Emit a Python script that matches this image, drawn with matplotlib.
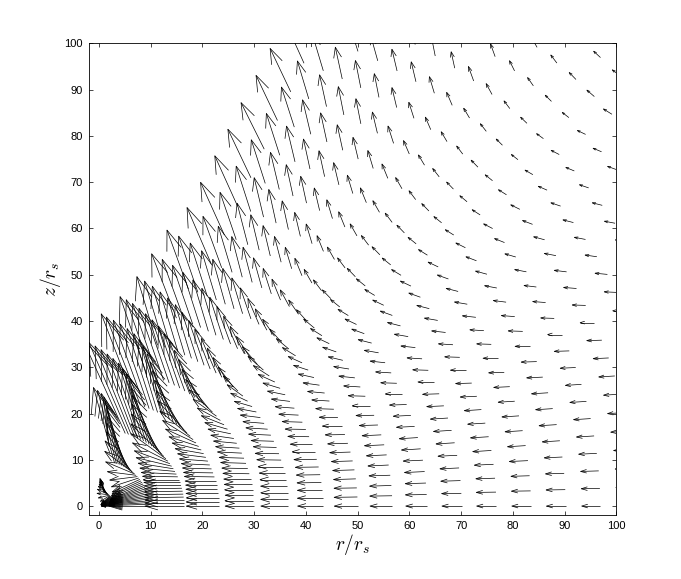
import numpy as np
import matplotlib
matplotlib.use("Agg")
import matplotlib.pyplot as plt
from matplotlib.collections import LineCollection

plt.rcParams['font.family'] = ['Liberation Sans', 'DejaVu Sans']
plt.rcParams['mathtext.fontset'] = 'cm'

# tail radius of each ring of arrows (r_s units)
ring_radius = [3.1, 9.8, 16.5, 23.2, 29.9, 36.6, 43.3, 50.0, 56.7, 63.4, 70.1,
               76.8, 83.5, 90.2, 96.9, 103.6, 110.3, 117.0, 123.7, 130.4, 137.1]

# latitude (deg above the equator) of the arrows along each ring
latitude_deg = [0, 2.25, 4.5, 6.75, 9, 11.25, 13.5, 15.75, 18, 20.25, 22.5,
                24.75, 27, 29.25, 31.5, 33.75, 36, 38.25, 40.5, 42.75, 45,
                47.25, 49.5, 51.75, 54, 56.25, 58.5, 60.75, 63, 65.25, 67.5,
                69.75, 72]

# arrow direction (deg, 180 = pointing to -r), one row per ring
arrow_dir = [
    [180, 182, 184, 187, 189, 191, 193, 196, 198, 200, 202, 205, 207, 209, 211, 214, 216, 218, 220, 222, 224, 215, 196, 172, 152, 137, 127, 119, 114, 110, 107, 105, 104],
    [180, 182, 184, 186, 188, 190, 192, 194, 196, 198, 200, 202, 204, 205, 206, 207, 207, 200, 188, 172, 155, 140, 128, 119, 113, 109, 106, 104, 103, 102, 102, 103, 104],
    [180, 180, 180, 181, 181, 181, 181, 181, 180, 180, 179, 177, 174, 170, 165, 158, 150, 141, 132, 124, 117, 112, 109, 107, 106, 106, 106, 107, 108, 109, 110, 111, 112],
    [180, 180, 180, 180, 180, 180, 180, 179, 179, 178, 177, 175, 172, 169, 165, 160, 153, 145, 137, 129, 122, 116, 112, 109, 107, 106, 105, 105, 106, 107, 108, 109, 109],
    [180, 180, 180, 180, 180, 180, 179, 179, 178, 178, 177, 176, 174, 171, 167, 162, 156, 149, 141, 133, 125, 119, 114, 111, 109, 108, 107, 107, 107, 107, 107, 107, 107],
    [180, 180, 180, 180, 180, 180, 180, 179, 179, 178, 178, 177, 176, 175, 172, 168, 162, 152, 141, 131, 124, 118, 114, 111, 109, 107, 106, 105, 105, 105, 105, 105, 105],
    [180, 180, 180, 181, 181, 181, 181, 180, 180, 179, 179, 178, 177, 175, 172, 167, 161, 153, 144, 135, 127, 120, 115, 111, 108, 106, 105, 105, 106, 107, 108, 109],
    [180, 181, 181, 182, 182, 182, 182, 182, 181, 180, 179, 178, 176, 174, 171, 166, 160, 153, 145, 137, 129, 122, 116, 111, 107, 105, 104, 104, 105, 106, 107, 108],
    [180, 181, 182, 182, 183, 183, 183, 183, 182, 181, 180, 178, 176, 173, 170, 165, 159, 152, 145, 137, 129, 122, 116, 110, 106, 104, 103, 103, 105, 108, 111],
    [180, 181, 182, 183, 183, 184, 184, 183, 183, 182, 180, 178, 176, 173, 169, 164, 158, 152, 146, 138, 131, 124, 117, 110, 105, 103, 102, 102, 103, 107, 112],
    [180, 181, 182, 183, 183, 184, 184, 184, 183, 182, 180, 178, 176, 173, 169, 164, 158, 152, 146, 138, 131, 124, 117, 110, 105, 102, 101, 101, 102, 106, 112],
    [180, 181, 182, 183, 184, 184, 184, 184, 183, 182, 180, 178, 176, 173, 169, 164, 158, 152, 146, 138, 131, 124, 117, 110, 105, 102, 101, 101, 102, 106, 113],
    [180, 181, 182, 183, 184, 184, 184, 184, 183, 182, 180, 178, 176, 173, 169, 164, 158, 152, 145, 138, 131, 124, 117, 110, 105, 102, 101, 101, 102, 106, 114],
    [180, 181, 182, 183, 184, 184, 184, 184, 183, 182, 180, 178, 175, 172, 168, 163, 157, 151, 145, 138, 131, 124, 117, 110, 105, 102, 101, 101, 102, 106, 113],
    [180, 181, 182, 183, 184, 184, 184, 184, 183, 182, 180, 178, 175, 172, 168, 162, 156, 150, 144, 137, 131, 125, 118, 111, 106, 102, 100, 100, 101, 105, 113],
    [180, 181, 182, 183, 184, 184, 184, 184, 183, 182, 180, 178, 175, 172, 168, 163, 157, 151, 145, 138, 131, 124, 118, 111, 106, 102, 100, 100, 101, 105, 112],
    [180, 181, 182, 183, 184, 184, 184, 184, 183, 182, 180, 177, 174, 171, 168, 164, 159, 154, 147, 139, 132, 125, 118, 111, 105, 102, 102, 104, 106, 108, 112],
    [180, 181, 182, 183, 184, 184, 184, 184, 183, 182, 180, 177, 174, 171, 168, 164, 159, 155, 150, 141, 133, 124, 116, 108, 101, 100, 102, 105, 107, 109, 112],
    [180, 181, 182, 183, 184, 184, 184, 184, 183, 182, 180, 177, 174, 171, 168, 164, 158, 155, 152, 139, 132, 122, 114, 108, 104, 103, 104, 106, 108, 110, 112],
    [180, 181, 182, 183, 184, 184, 184, 184, 183, 182, 180, 177, 174, 171, 168, 163, 157, 150, 145, 136, 131, 124, 117, 111, 106, 104, 104, 106, 108, 110, 112],
    [180, 181, 182, 183, 184, 184, 184, 184, 183, 182, 180, 177, 174, 171, 168, 163, 157, 151, 146, 140, 134, 127, 120, 113, 108, 105, 105, 106, 108, 110, 112],
]

# drawn arrow length (r_s units), same layout as arrow_dir
arrow_len = [
    [2.6, 2.6, 2.6, 2.6, 2.6, 2.6, 2.6, 2.6, 2.6, 2.6, 2.6, 2.6, 2.6, 2.6, 2.6, 2.6, 2.6, 2.5, 2.5, 2.4, 2.3, 2.2, 2.2, 2.3, 2.4, 2.5, 2.6, 2.7, 2.8, 2.9, 3.0, 3.0, 3.1],
    [7.9, 7.9, 7.9, 7.8, 7.8, 7.7, 7.7, 7.6, 7.5, 7.4, 7.3, 7.2, 7.0, 6.8, 6.6, 6.3, 6.0, 5.6, 5.4, 5.6, 6.2, 7.2, 8.4, 9.6, 10.8, 11.8, 12.8, 13.6, 14.4, 15.0, 15.6, 16.2, 16.8],
    [7.6, 7.6, 7.5, 7.5, 7.4, 7.3, 7.2, 7.1, 7.0, 6.9, 6.8, 6.8, 6.8, 6.9, 7.1, 7.4, 7.9, 8.6, 9.5, 10.5, 11.6, 12.7, 13.8, 14.8, 15.8, 16.7, 17.5, 18.3, 19.1, 19.9, 20.6, 21.3, 22.0],
    [6.3, 6.3, 6.2, 6.2, 6.1, 6.0, 5.9, 5.8, 5.7, 5.6, 5.5, 5.5, 5.5, 5.6, 5.8, 6.1, 6.6, 7.2, 8.0, 9.0, 10.1, 11.3, 12.5, 13.7, 14.8, 15.8, 16.8, 17.6, 18.4, 19.1, 19.7, 20.2, 20.6],
    [5.5, 5.5, 5.4, 5.4, 5.3, 5.2, 5.1, 5.0, 4.9, 4.8, 4.7, 4.6, 4.5, 4.5, 4.5, 4.6, 4.8, 5.2, 5.8, 6.6, 7.6, 8.7, 9.8, 10.9, 12.0, 13.0, 14.0, 14.8, 15.6, 16.3, 16.9, 17.3, 17.6],
    [5.3, 5.3, 5.2, 5.1, 5.0, 4.9, 4.8, 4.7, 4.6, 4.5, 4.4, 4.3, 4.2, 4.1, 3.9, 3.7, 3.6, 3.7, 3.9, 4.3, 5.0, 5.9, 6.9, 8.0, 9.1, 10.1, 11.1, 12.0, 12.8, 13.5, 14.2, 14.8, 15.3],
    [4.9, 4.9, 4.8, 4.7, 4.6, 4.5, 4.4, 4.3, 4.2, 4.1, 4.0, 3.9, 3.8, 3.7, 3.6, 3.5, 3.5, 3.6, 3.8, 4.2, 4.8, 5.6, 6.5, 7.5, 8.5, 9.5, 10.5, 11.5, 12.4, 13.3, 14.0, 14.7],
    [4.5, 4.5, 4.4, 4.3, 4.2, 4.1, 4.0, 3.9, 3.8, 3.7, 3.6, 3.5, 3.4, 3.3, 3.2, 3.1, 3.0, 3.0, 3.1, 3.3, 3.7, 4.3, 5.1, 6.0, 7.0, 8.0, 9.0, 10.0, 11.0, 11.9, 12.7, 13.4],
    [4.3, 4.3, 4.2, 4.1, 4.0, 3.9, 3.8, 3.7, 3.6, 3.5, 3.4, 3.3, 3.2, 3.1, 3.0, 2.9, 2.8, 2.7, 2.7, 2.8, 3.0, 3.4, 4.0, 4.8, 5.7, 6.7, 7.8, 9.0, 10.3, 11.7, 13.0],
    [4.1, 4.1, 4.0, 3.9, 3.8, 3.7, 3.6, 3.5, 3.4, 3.3, 3.2, 3.1, 3.0, 2.9, 2.8, 2.7, 2.6, 2.5, 2.4, 2.4, 2.5, 2.8, 3.3, 4.0, 4.8, 5.7, 6.7, 7.8, 9.2, 10.7, 12.3],
    [3.8, 3.8, 3.8, 3.7, 3.7, 3.6, 3.5, 3.4, 3.3, 3.2, 3.1, 3.0, 2.9, 2.8, 2.7, 2.6, 2.5, 2.4, 2.3, 2.3, 2.4, 2.6, 3.0, 3.6, 4.4, 5.3, 6.3, 7.4, 8.7, 10.2, 11.8],
    [3.8, 3.8, 3.7, 3.7, 3.6, 3.5, 3.4, 3.3, 3.2, 3.1, 3.0, 2.9, 2.8, 2.7, 2.6, 2.5, 2.4, 2.3, 2.2, 2.2, 2.3, 2.5, 2.9, 3.5, 4.2, 5.0, 5.9, 6.9, 8.2, 9.8, 11.4],
    [3.7, 3.7, 3.6, 3.6, 3.5, 3.4, 3.3, 3.2, 3.1, 3.0, 2.9, 2.8, 2.7, 2.6, 2.5, 2.4, 2.3, 2.2, 2.1, 2.1, 2.2, 2.4, 2.8, 3.4, 4.1, 4.9, 5.7, 6.6, 7.9, 9.4, 11.0],
    [3.7, 3.7, 3.6, 3.5, 3.4, 3.4, 3.3, 3.2, 3.1, 3.0, 2.9, 2.8, 2.6, 2.5, 2.4, 2.3, 2.2, 2.1, 2.0, 2.0, 2.1, 2.3, 2.7, 3.3, 4.0, 4.8, 5.6, 6.4, 7.6, 9.0, 10.6],
    [3.6, 3.6, 3.5, 3.5, 3.4, 3.3, 3.2, 3.1, 3.0, 2.9, 2.8, 2.6, 2.5, 2.4, 2.3, 2.2, 2.1, 2.0, 1.9, 1.9, 2.0, 2.2, 2.5, 3.1, 3.9, 4.7, 5.5, 6.2, 7.0, 8.5, 10.2],
    [3.6, 3.6, 3.5, 3.4, 3.4, 3.3, 3.2, 3.1, 3.0, 2.9, 2.7, 2.6, 2.5, 2.4, 2.3, 2.2, 2.1, 2.0, 1.9, 1.9, 2.0, 2.1, 2.4, 2.9, 3.6, 4.4, 5.2, 6.0, 7.0, 8.3, 9.8],
    [3.5, 3.5, 3.4, 3.4, 3.3, 3.2, 3.1, 3.0, 2.9, 2.8, 2.6, 2.5, 2.4, 2.3, 2.2, 2.1, 2.0, 1.9, 1.8, 1.7, 1.8, 2.0, 2.4, 3.0, 3.7, 4.4, 4.8, 5.4, 6.5, 7.8, 9.4],
    [3.5, 3.5, 3.4, 3.3, 3.3, 3.2, 3.1, 3.0, 2.9, 2.8, 2.6, 2.5, 2.4, 2.3, 2.1, 2.0, 1.9, 1.8, 1.8, 1.7, 1.8, 2.0, 2.6, 3.3, 3.6, 4.2, 4.8, 5.4, 6.3, 7.5, 9.0],
    [3.4, 3.4, 3.3, 3.3, 3.2, 3.1, 3.0, 2.9, 2.8, 2.7, 2.6, 2.4, 2.3, 2.2, 2.1, 2.0, 1.9, 1.8, 1.8, 1.7, 1.8, 2.1, 2.4, 2.9, 3.4, 4.0, 4.6, 5.2, 6.0, 7.2, 8.6],
    [3.4, 3.4, 3.3, 3.2, 3.2, 3.1, 3.0, 2.9, 2.8, 2.7, 2.5, 2.4, 2.3, 2.2, 2.1, 2.0, 1.9, 1.9, 2.0, 2.0, 2.0, 2.1, 2.3, 2.7, 3.2, 3.8, 4.4, 5.0, 5.8, 6.9, 8.2],
    [3.3, 3.3, 3.2, 3.2, 3.1, 3.0, 2.9, 2.8, 2.7, 2.6, 2.5, 2.4, 2.3, 2.2, 2.1, 2.0, 1.9, 1.9, 1.9, 1.9, 1.9, 2.0, 2.2, 2.6, 3.1, 3.6, 4.2, 4.8, 5.6, 6.6, 7.8],
]

# matlab style open arrow heads
alpha, beta = 0.33, 0.33
segments = []
for R, dirs, lens in zip(ring_radius, arrow_dir, arrow_len):
    for lat, phi, L in zip(latitude_deg, dirs, lens):
        x = R * np.cos(np.radians(lat))
        z = R * np.sin(np.radians(lat))
        u = L * np.cos(np.radians(phi))
        v = L * np.sin(np.radians(phi))
        tx, tz = x + u, z + v
        segments.append([(x, z), (tx, tz)])
        segments.append([(tx - alpha * (u + beta * v), tz - alpha * (v - beta * u)),
                         (tx, tz),
                         (tx - alpha * (u - beta * v), tz - alpha * (v + beta * u))])

fig = plt.figure(figsize=(6.81, 5.79), dpi=100)
ax = fig.add_axes([0.13, 0.11, 0.775, 0.815])
ax.add_collection(LineCollection(segments, colors='k', linewidths=0.5))

ax.set_xlim(-2, 100)
ax.set_ylim(-2, 100)
ax.set_xticks(np.arange(0, 101, 10))
ax.set_yticks(np.arange(0, 101, 10))
ax.tick_params(direction='in', top=True, right=True, length=3, width=0.5,
               labelsize=8, pad=4)
for s in ax.spines.values():
    s.set_linewidth(0.6)

ax.set_xlabel(r'$r/r_s$', fontsize=14, labelpad=1)
ax.set_ylabel(r'$z/r_s$', fontsize=14, labelpad=1)

fig.savefig('out.png', dpi=100)
